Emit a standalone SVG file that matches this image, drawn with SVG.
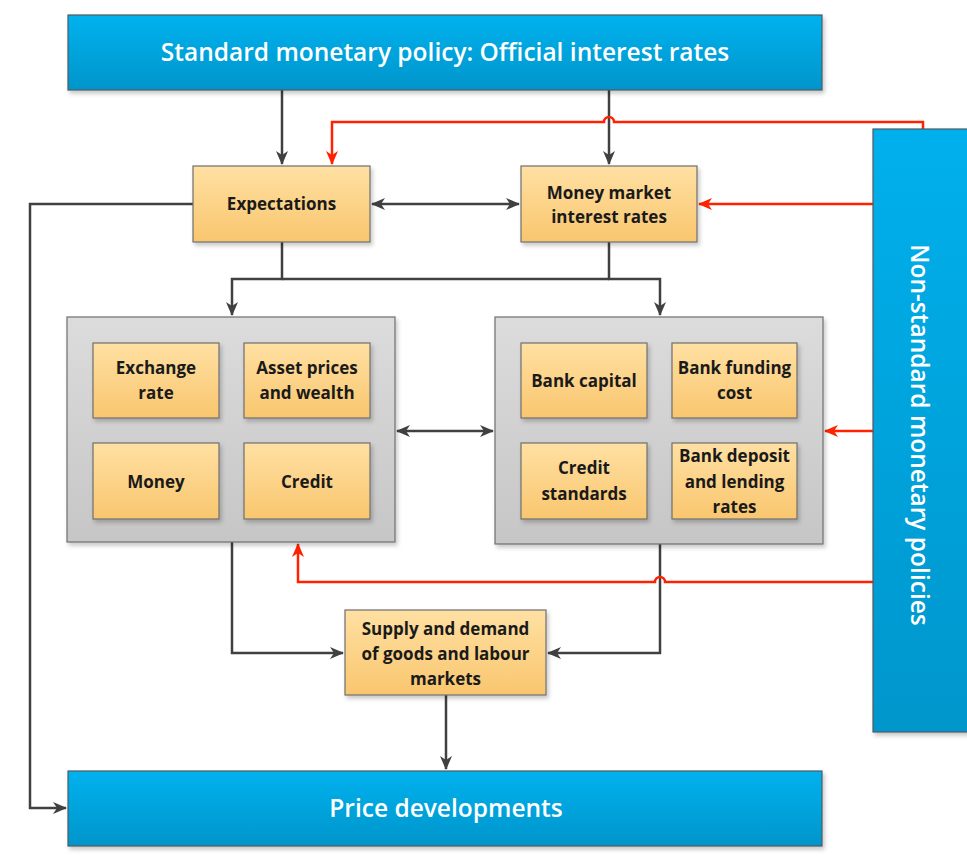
<svg xmlns="http://www.w3.org/2000/svg" width="967" height="858" viewBox="0 0 967 858">
<defs>
<linearGradient id="gBlue" x1="0" y1="0" x2="0" y2="1"><stop offset="0" stop-color="#00b2ee"/><stop offset="1" stop-color="#0095cb"/></linearGradient>
<linearGradient id="gBlueV" x1="0" y1="0" x2="0" y2="1"><stop offset="0" stop-color="#00b0ec"/><stop offset="1" stop-color="#0096cc"/></linearGradient>
<linearGradient id="gOr" x1="0" y1="0" x2="0" y2="1"><stop offset="0" stop-color="#ffe0a3"/><stop offset="1" stop-color="#f9c66e"/></linearGradient>
<linearGradient id="gGr" x1="0" y1="0" x2="0" y2="1"><stop offset="0" stop-color="#dcdcdc"/><stop offset="1" stop-color="#c6c6c6"/></linearGradient>
<filter id="sh" x="-5%" y="-5%" width="115%" height="120%"><feDropShadow dx="2" dy="3" stdDeviation="2" flood-color="#000" flood-opacity="0.22"/></filter>
<marker id="aG" markerUnits="userSpaceOnUse" markerWidth="14" markerHeight="14" viewBox="0 0 14 14" refX="13" refY="7" orient="auto-start-reverse"><path d="M0,1 L14,7 L0,13 L4,7 Z" fill="#404040"/></marker>
<marker id="aR" markerUnits="userSpaceOnUse" markerWidth="14" markerHeight="14" viewBox="0 0 14 14" refX="13" refY="7" orient="auto-start-reverse"><path d="M0,1 L14,7 L0,13 L4,7 Z" fill="#ff2200"/></marker>
</defs>
<style>
.blue{fill:url(#gBlue);stroke:#4d5a63;stroke-width:1.2;filter:url(#sh)}
.or{fill:url(#gOr);stroke:#6f6f6f;stroke-width:1.2;filter:url(#sh)}
.gr{fill:url(#gGr);stroke:#6f6f6f;stroke-width:1.2;filter:url(#sh)}
.tw{font-family:"Open Sans","Liberation Sans",sans-serif;font-weight:600;fill:#fff;text-anchor:middle;font-size:24.5px}
.tb{font-family:"Open Sans","Liberation Sans",sans-serif;font-weight:700;fill:#1a1a1a;text-anchor:middle;font-size:17px}
.ln{fill:none;stroke:#404040;stroke-width:2.5}
.rd{fill:none;stroke:#ff2200;stroke-width:2.5}
</style>

<g id="connectors">
<path class="ln" d="M282,90 V164" marker-end="url(#aG)"/>
<path class="ln" d="M609,90 V164" marker-end="url(#aG)"/>
<path class="ln" d="M372,204 H519" marker-start="url(#aG)" marker-end="url(#aG)"/>
<path class="ln" d="M193,204 H30 V808 H66" marker-end="url(#aG)"/>
<path class="ln" d="M282,242 V279 H232 V315" marker-end="url(#aG)"/>
<path class="ln" d="M609,242 V279 H660 V315" marker-end="url(#aG)"/>
<path class="ln" d="M282,279 H609"/>
<path class="ln" d="M397,431 H493" marker-start="url(#aG)" marker-end="url(#aG)"/>
<path class="ln" d="M232,542 V653 H343" marker-end="url(#aG)"/>
<path class="ln" d="M660,544 V653 H548" marker-end="url(#aG)"/>
<path class="ln" d="M446,694 V769" marker-end="url(#aG)"/>
<path class="rd" d="M923,129 V122 H614 A5,5 0 0 0 604,122 H332 V164" marker-end="url(#aR)"/>
<path class="rd" d="M873,204 H699" marker-end="url(#aR)"/>
<path class="rd" d="M873,431 H825" marker-end="url(#aR)"/>
<path class="rd" d="M873,582 H665 A5,5 0 0 0 655,582 H298 V544" marker-end="url(#aR)"/>
</g>

<g id="top"><rect class="blue" x="68" y="15" width="754" height="75"/><text class="tw" x="445" y="61">Standard monetary policy: Official interest rates</text></g>
<g id="nonstandard"><rect class="blue" x="873" y="129" width="100" height="603" style="fill:url(#gBlueV)"/><text class="tw" transform="translate(911,435) rotate(90)">Non-standard monetary policies</text></g>
<g id="price"><rect class="blue" x="68" y="771" width="754" height="75"/><text class="tw" x="446" y="817">Price developments</text></g>

<g id="expectations"><rect class="or" x="193" y="166" width="177" height="76"/><text class="tb" x="281.5" y="210">Expectations</text></g>
<g id="moneymarket"><rect class="or" x="521" y="166" width="176" height="76"/><text class="tb" x="609" y="199">Money market</text><text class="tb" x="609" y="223">interest rates</text></g>

<g id="leftgroup"><rect class="gr" x="67" y="317" width="328" height="225"/></g>
<g id="exchange"><rect class="or" x="93" y="343" width="126" height="75"/><text class="tb" x="156" y="374">Exchange</text><text class="tb" x="156" y="399">rate</text></g>
<g id="asset"><rect class="or" x="244" y="343" width="126" height="75"/><text class="tb" x="307" y="374">Asset prices</text><text class="tb" x="307" y="399">and wealth</text></g>
<g id="money"><rect class="or" x="93" y="443" width="126" height="76"/><text class="tb" x="156" y="488">Money</text></g>
<g id="credit"><rect class="or" x="244" y="443" width="126" height="76"/><text class="tb" x="307" y="488">Credit</text></g>

<g id="rightgroup"><rect class="gr" x="495" y="317" width="328" height="227"/></g>
<g id="bankcapital"><rect class="or" x="521" y="343" width="126" height="75"/><text class="tb" x="584" y="387">Bank capital</text></g>
<g id="bankfunding"><rect class="or" x="672" y="343" width="125" height="75"/><text class="tb" x="734.5" y="374">Bank funding</text><text class="tb" x="734.5" y="399">cost</text></g>
<g id="creditstandards"><rect class="or" x="521" y="443" width="126" height="76"/><text class="tb" x="584" y="474">Credit</text><text class="tb" x="584" y="500">standards</text></g>
<g id="bankdeposit"><rect class="or" x="672" y="443" width="125" height="76"/><text class="tb" x="734.5" y="462">Bank deposit</text><text class="tb" x="734.5" y="488">and lending</text><text class="tb" x="734.5" y="513">rates</text></g>

<g id="supply"><rect class="or" x="345" y="610" width="201" height="85"/><text class="tb" x="445.5" y="635">Supply and demand</text><text class="tb" x="445.5" y="660">of goods and labour</text><text class="tb" x="445.5" y="685">markets</text></g>
</svg>
